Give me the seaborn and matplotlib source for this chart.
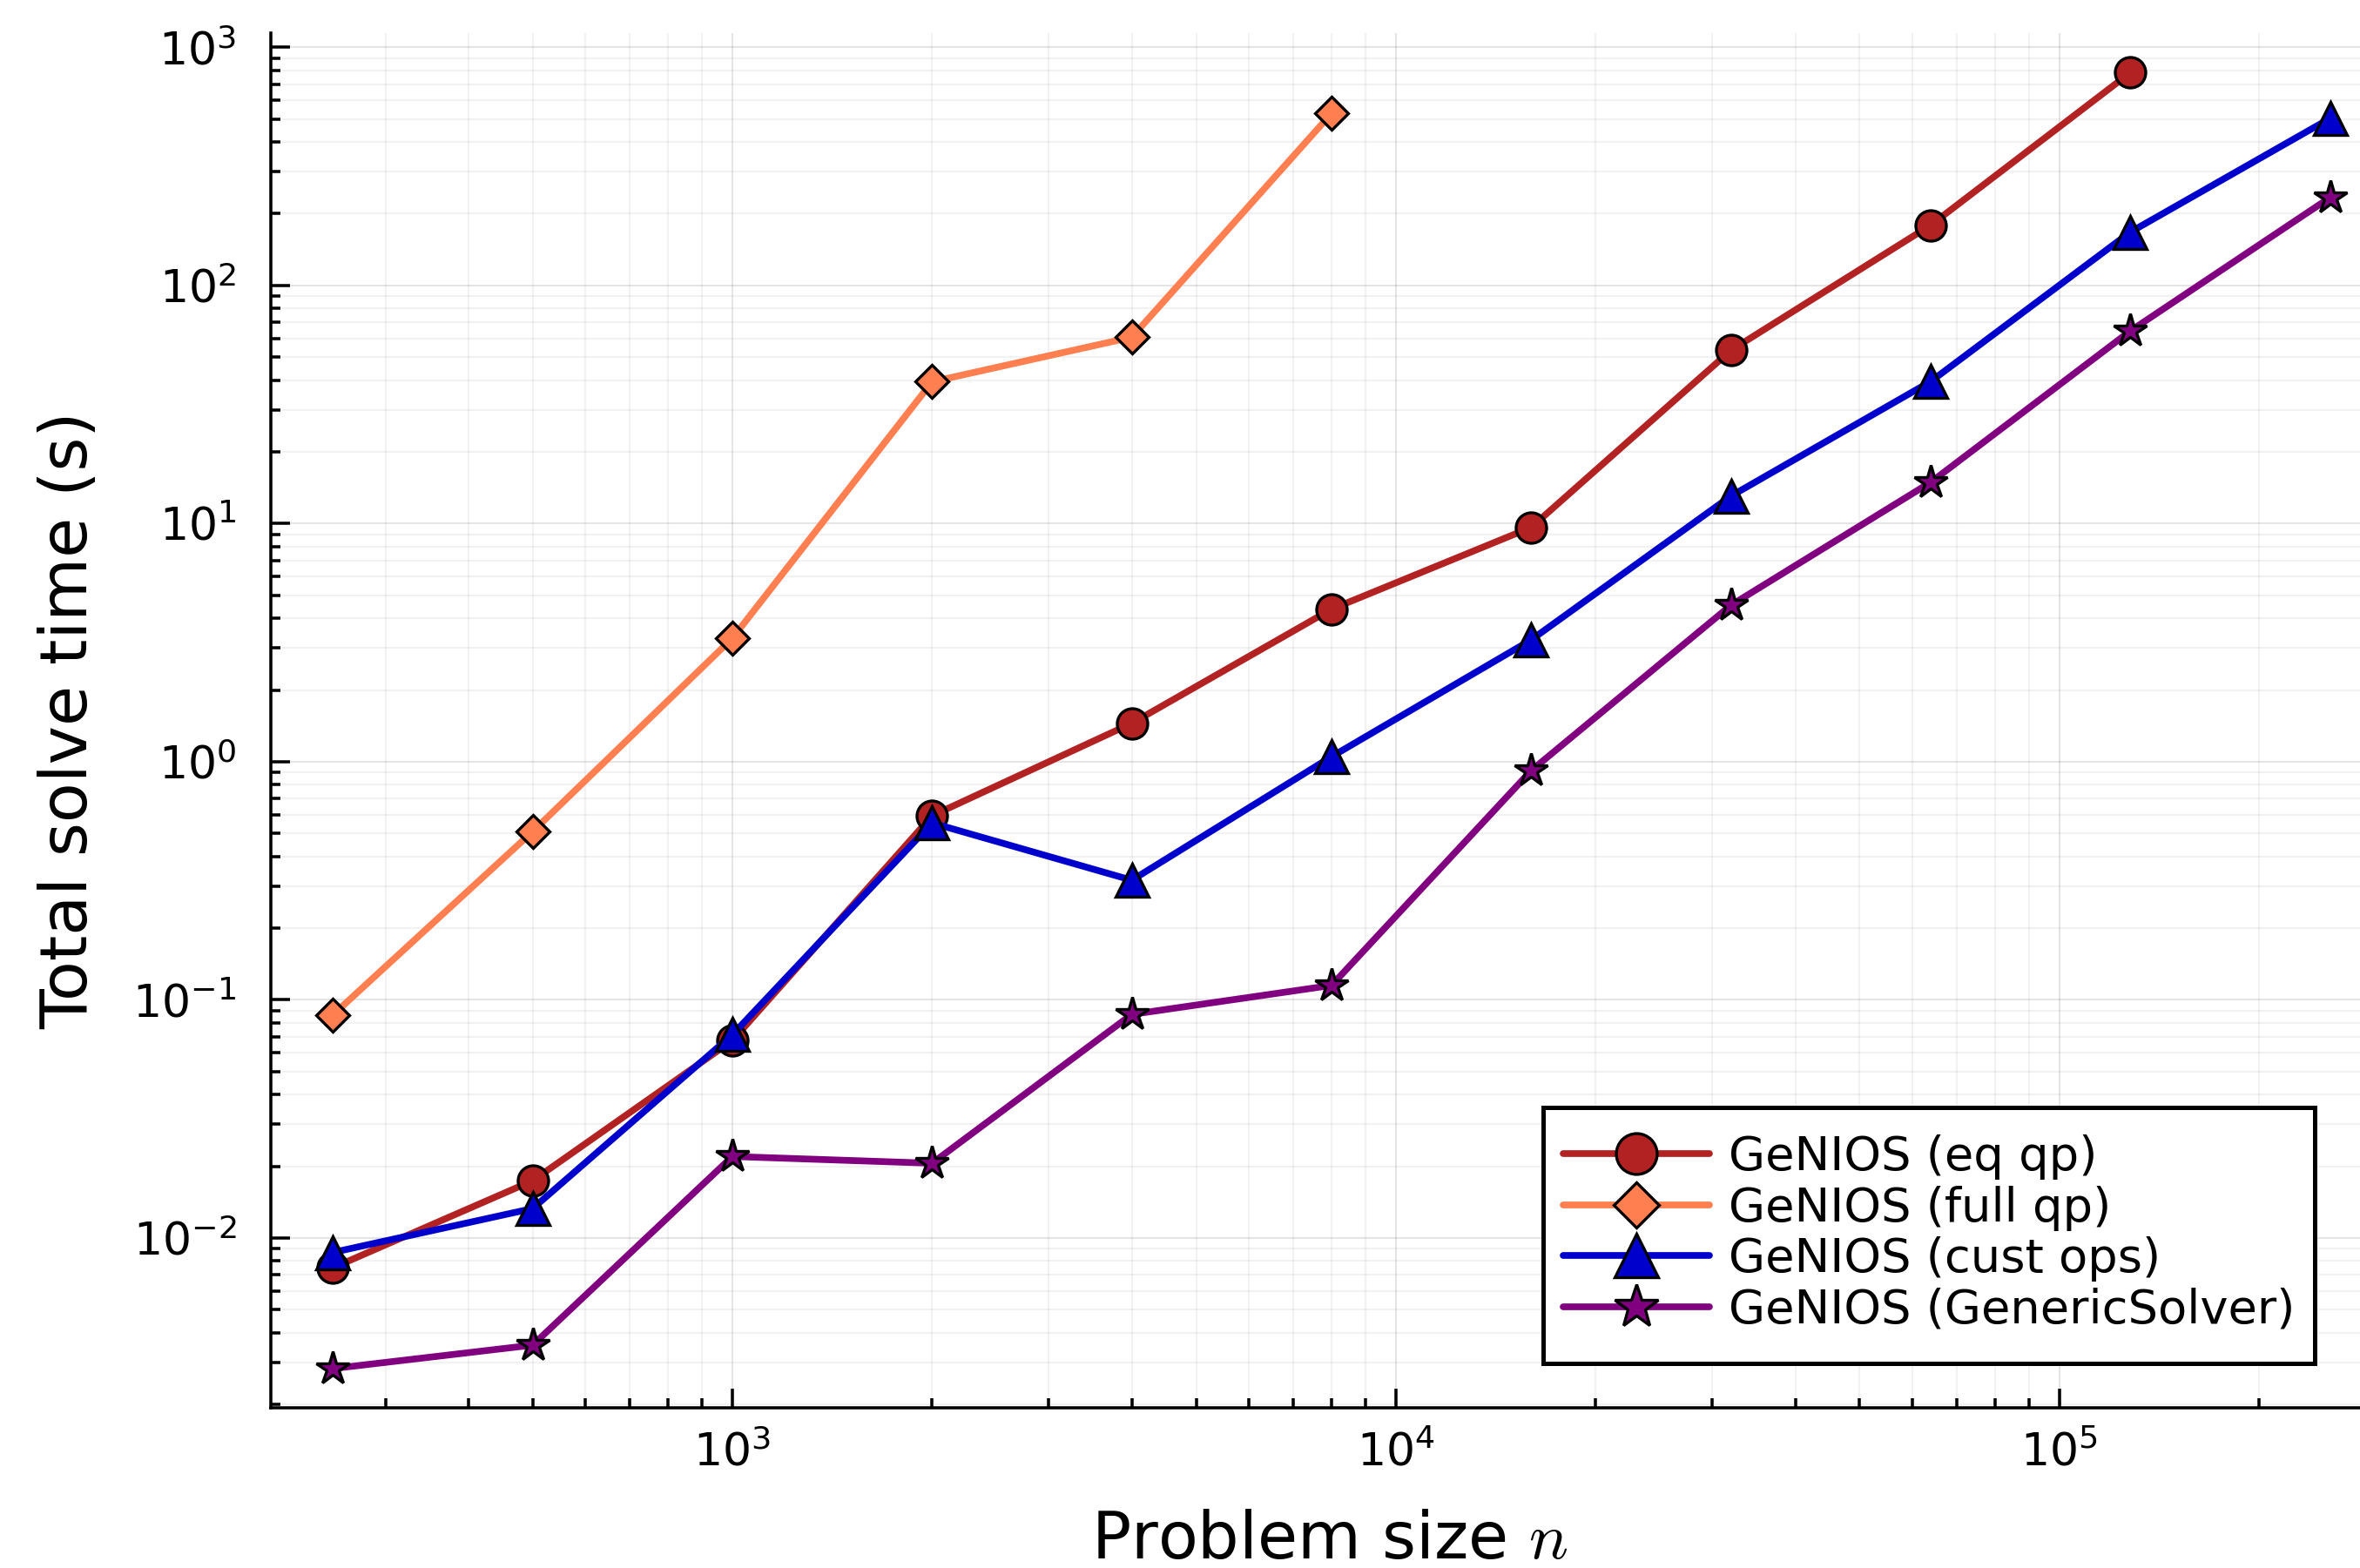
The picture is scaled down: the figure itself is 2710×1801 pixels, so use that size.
import numpy as np
import pandas as pd
import matplotlib
matplotlib.use("Agg")
import matplotlib.pyplot as plt
from matplotlib.patches import Rectangle
from matplotlib.ticker import LogLocator, FuncFormatter, NullFormatter
import seaborn as sns

# Problem sizes and total solve times (seconds) for each GeNIOS variant
n_eq = [250, 500, 1000, 2000, 4000, 8000, 16000, 32000, 64000, 128000]
t_eq = [0.0075, 0.0174, 0.0675, 0.593, 1.45, 4.37, 9.64, 53.4, 179.0, 783.0]

n_full = [250, 500, 1000, 2000, 4000, 8000]
t_full = [0.0865, 0.509, 3.30, 39.4, 60.6, 528.0]

n_cust = [250, 500, 1000, 2000, 4000, 8000, 16000, 32000, 64000, 128000, 256000]
t_cust = [0.0087, 0.0133, 0.0714, 0.553, 0.318, 1.05, 3.25, 13.05, 39.5, 167.5, 503.0]

n_gen = [250, 500, 1000, 2000, 4000, 8000, 16000, 32000, 64000, 128000, 256000]
t_gen = [0.00283, 0.00355, 0.0220, 0.0206, 0.0869, 0.115, 0.918, 4.54, 14.9, 64.4, 234.0]

labels = ["GeNIOS (eq qp)", "GeNIOS (full qp)", "GeNIOS (cust ops)", "GeNIOS (GenericSolver)"]
colors = ["#B22222", "#FF7F50", "#0000CD", "#800080"]
markers = ["o", "D", "^", "*"]
msizes = [8.4, 6.5, 9.1, 9.4]

sns.set_theme(style="white")
plt.rcParams["font.family"] = ["DejaVu Sans"]
plt.rcParams["mathtext.fontset"] = "cm"
for key in ("text.color", "axes.labelcolor", "xtick.color", "ytick.color"):
    plt.rcParams[key] = "black"

fig = plt.figure(figsize=(2710 / 300, 1801 / 300), dpi=300)
ax = fig.add_axes([311 / 2710, 184 / 1801, 1 - 311 / 2710, 1579 / 1801])
ax.set_xscale("log")
ax.set_yscale("log")

series = [(n_eq, t_eq), (n_full, t_full), (n_cust, t_cust), (n_gen, t_gen)]
for (nx, ty), lab, col, mk, ms in zip(series, labels, colors, markers, msizes):
    df = pd.DataFrame({"n": nx, "t": ty})
    sns.lineplot(data=df, x="n", y="t", ax=ax, color=col, linewidth=1.85,
                 marker=mk, markersize=ms, markeredgecolor="black",
                 markeredgewidth=0.8, label=lab, zorder=3)

ax.set_xlim(10 ** 2.3043, 10 ** 5.4533)
ax.set_ylim(10 ** -2.713, 10 ** 3.0596)

for axis in (ax.xaxis, ax.yaxis):
    axis.set_major_locator(LogLocator(base=10, numticks=20))
    axis.set_minor_locator(LogLocator(base=10, subs=np.arange(2, 10), numticks=20))
    axis.set_minor_formatter(NullFormatter())
    axis.set_major_formatter(FuncFormatter(
        lambda v, p: r"$\mathregular{10^{%d}}$" % int(round(np.log10(v)))))

ax.grid(True, which="major", color="black", alpha=0.10, linewidth=0.5, zorder=0)
ax.grid(True, which="minor", color="black", alpha=0.05, linewidth=0.5, zorder=0)
ax.set_axisbelow(True)

for side in ("top", "right"):
    ax.spines[side].set_visible(False)
for side in ("left", "bottom"):
    ax.spines[side].set_color("black")
    ax.spines[side].set_linewidth(0.85)

ax.tick_params(which="both", direction="in", color="black", width=0.85,
               left=True, bottom=True, top=False, right=False)
ax.tick_params(which="major", length=5.3, labelsize=12.5, labelcolor="black")
ax.tick_params(axis="y", which="major", pad=9.5)
ax.tick_params(axis="x", which="major", pad=6.5)
ax.tick_params(which="minor", length=2.7)

ax.set_xlabel(r"Problem size $n$", fontsize=18, color="black")
ax.set_ylabel("Total solve time (s)", fontsize=18, color="black")
ax.xaxis.set_label_coords(0.507, -0.0735)
ax.yaxis.set_label_coords(-0.081, 0.5)

# Legend entries without a frame; the frame is drawn below with extra
# vertical padding around the packed entries.
leg = ax.legend(loc="center", bbox_to_anchor=(2215 / 2710, 1 - 1417 / 1801),
                bbox_transform=fig.transFigure, frameon=False, fontsize=13.05,
                markerscale=1.34, handlelength=3.1, handletextpad=0.40,
                borderpad=0.42, labelspacing=0.12, borderaxespad=0)
leg.set_zorder(6)

fig.canvas.draw()
bb = leg.get_window_extent().transformed(fig.transFigure.inverted())
extra_top = 8.5 / 1801
extra_bottom = 12.5 / 1801
frame = Rectangle((bb.x0, bb.y0 - extra_bottom), bb.width,
                  bb.height + extra_top + extra_bottom,
                  transform=fig.transFigure, facecolor="white",
                  edgecolor="black", linewidth=1.2, zorder=5)
ax.add_artist(frame)
frame.set_clip_on(False)

fig.savefig("out.png", dpi=300)
